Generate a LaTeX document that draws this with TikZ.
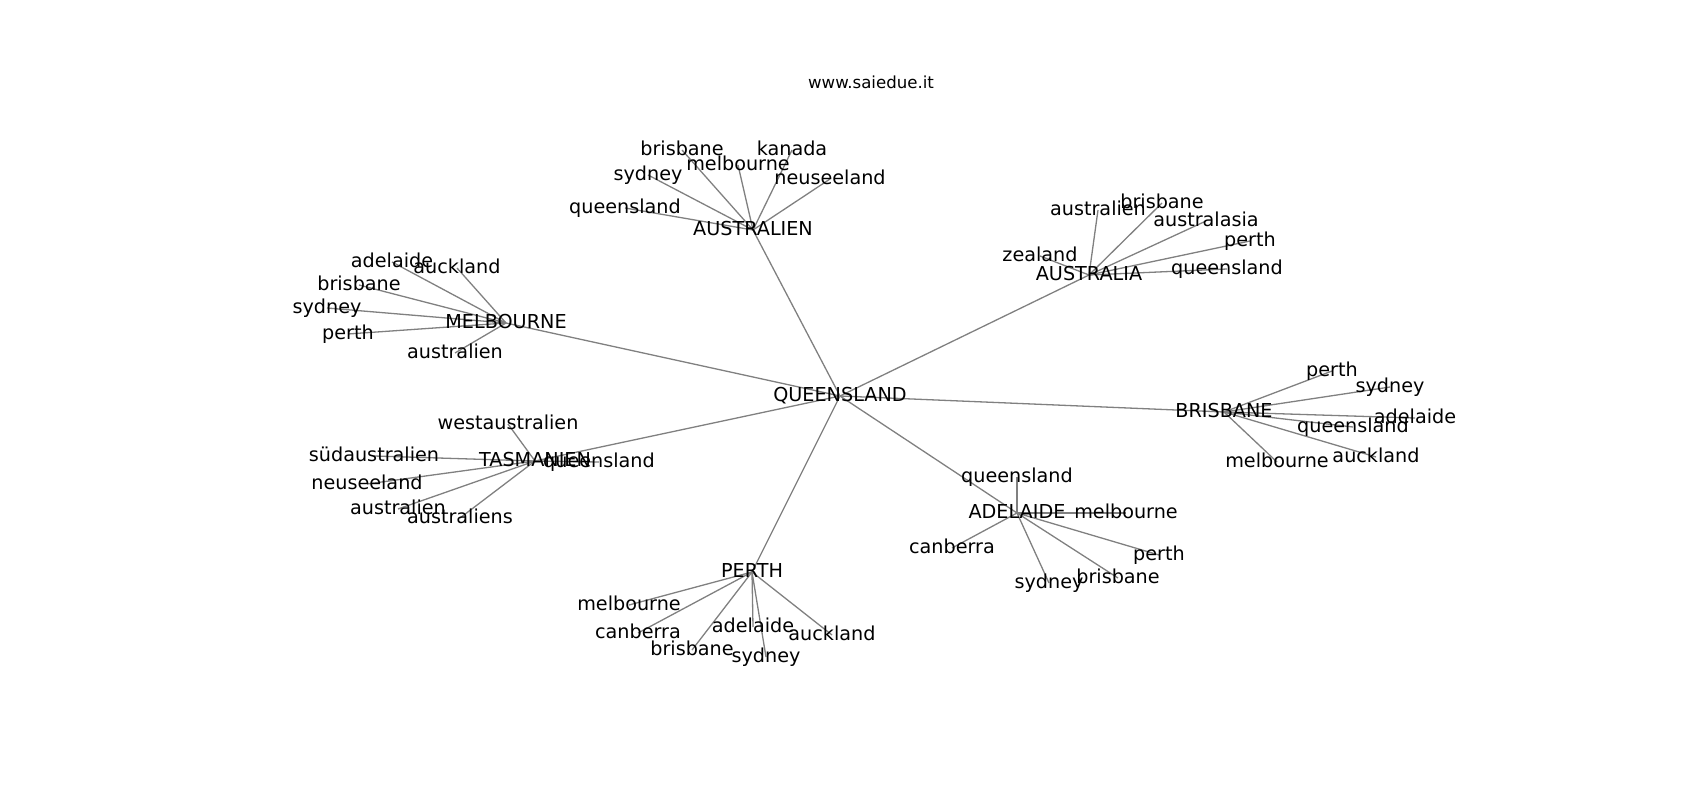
\documentclass[tikz,border=0pt]{standalone}
\usepackage{fontspec}
\setmainfont{DejaVu Sans}
\usepackage{tikz}

\pgfdeclarelayer{bg}
\pgfsetlayers{bg,main}

\tikzset{
    word/.style={inner sep=0pt,text height=14pt,text depth=4pt,font=\fontsize{19.2}{22}\selectfont},
    link/.style={draw=black!50,line width=1.3pt}
}

\begin{document}
\begin{tikzpicture}[x=1pt,y=-1pt]
        \useasboundingbox (0,0) rectangle (1700,800);
        \node[inner sep=0pt,font=\fontsize{16.6}{19}\selectfont] (title) at (871,82) {www.saiedue.it};

        \node[word] (QL) at (840,396) {QUEENSLAND};
        \node[word] (AS) at (753,230) {AUSTRALIEN};
        \node[word] (AA) at (1089,275) {AUSTRALIA};
        \node[word] (MB) at (506,323) {MELBOURNE};
        \node[word] (TS) at (535,461) {TASMANIEN};
        \node[word] (BR) at (1224,412) {BRISBANE};
        \node[word] (AD) at (1017,513) {ADELAIDE};
        \node[word] (PE) at (752,572) {PERTH};

        \node[word] (AS1) at (625,208) {queensland};
        \node[word] (AS2) at (648,175) {sydney};
        \node[word] (AS3) at (682,150) {brisbane};
        \node[word] (AS4) at (738,165) {melbourne};
        \node[word] (AS5) at (792,150) {kanada};
        \node[word] (AS6) at (830,179) {neuseeland};

        \node[word] (AA1) at (1098,210) {australien};
        \node[word] (AA2) at (1162,203) {brisbane};
        \node[word] (AA3) at (1206,221) {australasia};
        \node[word] (AA4) at (1250,241) {perth};
        \node[word] (AA5) at (1040,256) {zealand};
        \node[word] (AA6) at (1227,269) {queensland};

        \node[word] (MB1) at (392,262) {adelaide};
        \node[word] (MB2) at (457,268) {auckland};
        \node[word] (MB3) at (359,285) {brisbane};
        \node[word] (MB4) at (327,308) {sydney};
        \node[word] (MB5) at (348,334) {perth};
        \node[word] (MB6) at (455,353) {australien};

        \node[word] (TS1) at (599,462) {queensland};
        \node[word] (TS2) at (508,424) {westaustralien};
        \node[word] (TS3) at (374,456) {südaustralien};
        \node[word] (TS4) at (367,484) {neuseeland};
        \node[word] (TS5) at (398,509) {australien};
        \node[word] (TS6) at (460,518) {australiens};

        \node[word] (BR1) at (1332,371) {perth};
        \node[word] (BR2) at (1390,387) {sydney};
        \node[word] (BR3) at (1415,418) {adelaide};
        \node[word] (BR4) at (1353,427) {queensland};
        \node[word] (BR5) at (1376,457) {auckland};
        \node[word] (BR6) at (1277,462) {melbourne};

        \node[word] (AD1) at (1017,477) {queensland};
        \node[word] (AD2) at (1126,513) {melbourne};
        \node[word] (AD3) at (952,548) {canberra};
        \node[word] (AD4) at (1159,555) {perth};
        \node[word] (AD5) at (1049,583) {sydney};
        \node[word] (AD6) at (1118,578) {brisbane};

        \node[word] (PE1) at (629,605) {melbourne};
        \node[word] (PE2) at (638,633) {canberra};
        \node[word] (PE3) at (753,627) {adelaide};
        \node[word] (PE4) at (832,635) {auckland};
        \node[word] (PE5) at (692,650) {brisbane};
        \node[word] (PE6) at (766,657) {sydney};

        \begin{pgfonlayer}{bg}
        \path [link](QL.center) edge (AS.center);
        \path [link](QL.center) edge (AA.center);
        \path [link](QL.center) edge (MB.center);
        \path [link](QL.center) edge (TS.center);
        \path [link](QL.center) edge (BR.center);
        \path [link](QL.center) edge (AD.center);
        \path [link](QL.center) edge (PE.center);

        \path [link](AS.center) edge (AS1.center);
        \path [link](AS.center) edge (AS2.center);
        \path [link](AS.center) edge (AS3.center);
        \path [link](AS.center) edge (AS4.center);
        \path [link](AS.center) edge (AS5.center);
        \path [link](AS.center) edge (AS6.center);

        \path [link](AA.center) edge (AA1.center);
        \path [link](AA.center) edge (AA2.center);
        \path [link](AA.center) edge (AA3.center);
        \path [link](AA.center) edge (AA4.center);
        \path [link](AA.center) edge (AA5.center);
        \path [link](AA.center) edge (AA6.center);

        \path [link](MB.center) edge (MB1.center);
        \path [link](MB.center) edge (MB2.center);
        \path [link](MB.center) edge (MB3.center);
        \path [link](MB.center) edge (MB4.center);
        \path [link](MB.center) edge (MB5.center);
        \path [link](MB.center) edge (MB6.center);

        \path [link](TS.center) edge (TS1.center);
        \path [link](TS.center) edge (TS2.center);
        \path [link](TS.center) edge (TS3.center);
        \path [link](TS.center) edge (TS4.center);
        \path [link](TS.center) edge (TS5.center);
        \path [link](TS.center) edge (TS6.center);

        \path [link](BR.center) edge (BR1.center);
        \path [link](BR.center) edge (BR2.center);
        \path [link](BR.center) edge (BR3.center);
        \path [link](BR.center) edge (BR4.center);
        \path [link](BR.center) edge (BR5.center);
        \path [link](BR.center) edge (BR6.center);

        \path [link](AD.center) edge (AD1.center);
        \path [link](AD.center) edge (AD2.center);
        \path [link](AD.center) edge (AD3.center);
        \path [link](AD.center) edge (AD4.center);
        \path [link](AD.center) edge (AD5.center);
        \path [link](AD.center) edge (AD6.center);

        \path [link](PE.center) edge (PE1.center);
        \path [link](PE.center) edge (PE2.center);
        \path [link](PE.center) edge (PE3.center);
        \path [link](PE.center) edge (PE4.center);
        \path [link](PE.center) edge (PE5.center);
        \path [link](PE.center) edge (PE6.center);
        \end{pgfonlayer}
    \end{tikzpicture}
\end{document}
